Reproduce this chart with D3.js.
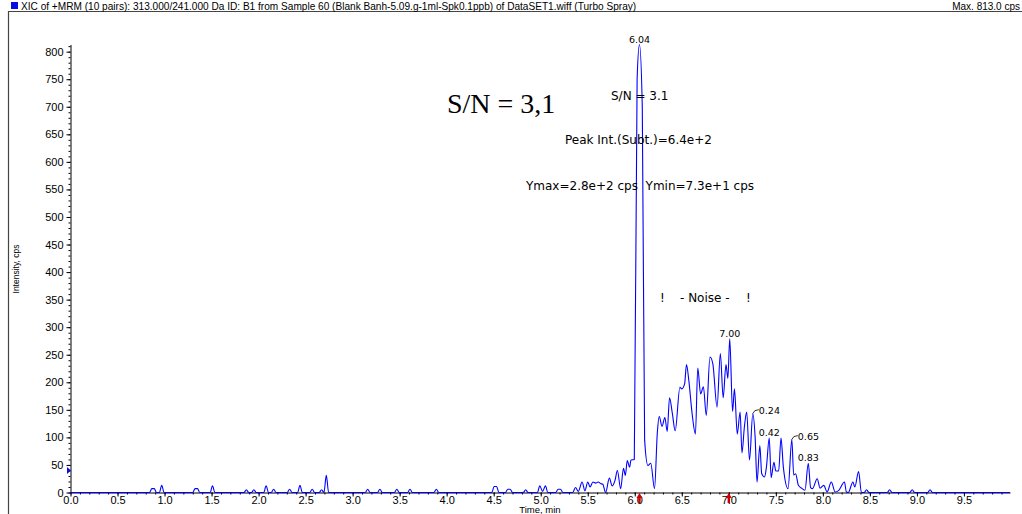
<!DOCTYPE html>
<html>
<head>
<meta charset="utf-8">
<script src="https://cdn.jsdelivr.net/npm/d3@7"></script>
<style>
  body { margin: 0; background: #fff; }
  svg { display: block; }
</style>
</head>
<body>
<svg width="1022" height="514"></svg>
<script>
// chromatogram data (time in min, intensity in cps)
const times = [
    0.00, 0.84, 0.865, 0.89, 0.915, 0.945, 0.97, 0.995,
    1.30, 1.325, 1.35, 1.375, 1.485, 1.51, 1.535,
    1.845, 1.87, 1.895, 1.925, 1.95, 1.975,
    2.055, 2.08, 2.105, 2.135, 2.16, 2.185,
    2.305, 2.33, 2.355, 2.415, 2.44, 2.465,
    2.545, 2.57, 2.595, 2.645, 2.67, 2.695, 2.72, 2.745,
    3.135, 3.16, 3.185, 3.265, 3.29, 3.315,
    3.445, 3.47, 3.495, 3.585, 3.61, 3.635,
    3.865, 3.89, 3.915,
    4.48, 4.505, 4.53, 4.555, 4.625, 4.65, 4.675, 4.70,
    4.815, 4.84, 4.865, 4.965, 4.99, 5.02, 5.05, 5.075,
    5.16, 5.185, 5.21, 5.235,
    5.34, 5.37, 5.40, 5.44, 5.47, 5.50, 5.525, 5.555, 5.585, 5.61,
    5.64, 5.66, 5.69, 5.73, 5.76, 5.79, 5.815, 5.85, 5.88, 5.90,
    5.92, 5.945, 5.96, 5.995, 6.025, 6.05, 6.08, 6.105, 6.14, 6.17,
    6.21, 6.24, 6.26, 6.29, 6.32, 6.345, 6.37, 6.40, 6.43, 6.48,
    6.50, 6.53, 6.55, 6.575, 6.61, 6.645, 6.67, 6.70, 6.73, 6.76,
    6.80, 6.83, 6.875, 6.91, 6.94, 6.97, 6.99, 7.01, 7.04, 7.06,
    7.09, 7.12, 7.14, 7.165, 7.19, 7.22, 7.255, 7.28, 7.30, 7.33,
    7.35, 7.38, 7.40, 7.43, 7.45, 7.48, 7.50, 7.53, 7.555, 7.58,
    7.63, 7.67, 7.69, 7.71, 7.74, 7.78, 7.81, 7.845, 7.87, 7.89,
    7.94, 7.97, 8.01, 8.045, 8.09, 8.13, 8.17, 8.23, 8.25, 8.27,
    8.32, 8.34, 8.38, 8.41, 8.44, 8.465, 8.49,
    8.685, 8.71, 8.735, 8.925, 8.95, 8.975, 9.115, 9.14, 9.165, 9.99
];
const cps = [
    0, 0, 7, 7, 0, 0, 13, 0,
    0, 7, 7, 0, 0, 12, 0,
    0, 5, 0, 0, 5, 0,
    0, 12, 0, 0, 6, 0,
    0, 6, 0, 0, 13, 0,
    0, 6, 0, 0, 5, 0, 31, 0,
    0, 6, 0, 0, 6, 0,
    0, 6, 0, 0, 6, 0,
    0, 6, 0,
    0, 11, 11, 0, 0, 6, 6, 0,
    0, 5, 0, 0, 12, 2, 12, 0,
    0, 6, 6, 0,
    0, 9, 2, 19, 3, 19, 10, 19, 17, 19,
    16, 15, 0, 26, 12, 22, 40, 7, 44, 31,
    58, 46, 59, 60, 750, 813, 700, 95, 49, 53,
    7, 109, 138, 120, 136, 111, 172, 143, 112, 191,
    188, 197, 232, 203, 143, 106, 226, 179, 192, 140,
    246, 234, 155, 252, 172, 232, 207, 279, 147, 188,
    106, 146, 72, 118, 146, 59, 143, 100, 19, 85,
    34, 28, 46, 99, 27, 55, 39, 39, 99, 46,
    7, 96, 32, 34, 13, 7, 4, 53, 9, 7,
    25, 8, 13, 1, 19, 1, 4, 19, 1, 0,
    19, 10, 38, 0, 0, 5, 0,
    0, 5, 0, 0, 5, 0, 0, 5, 0, 0
];

// axis ticks
const xTicks = [0.0, 0.5, 1.0, 1.5, 2.0, 2.5, 3.0, 3.5, 4.0, 4.5, 5.0, 5.5, 6.0, 6.5, 7.0, 7.5, 8.0, 8.5, 9.0, 9.5];
const yTicks = [0, 50, 100, 150, 200, 250, 300, 350, 400, 450, 500, 550, 600, 650, 700, 750, 800];

// peak labels
const peakTimes = [6.05, 7.01, 7.255, 7.43, 7.67, 7.845];
const peakTexts = ["6.04", "7.00", "0.24", "0.42", "0.65", "0.83"];
const peakLeader = [false, false, true, false, true, false];

// markers
const markerTimes = [6.05, 7.0];
const baseMarker = 40;

const svg = d3.select("svg");
const width = 1022;
const height = 514;

svg.append("rect").attr("width", width).attr("height", height).attr("fill", "#fff");

// scales
const x = d3.scaleLinear().domain([0, 9.99]).range([70.5, 1010]);
const y = d3.scaleLinear().domain([0, 813]).range([492.5, 44.5]);

// frame
svg.append("line")
    .attr("x1", 8).attr("x2", width).attr("y1", 11.5).attr("y2", 11.5)
    .attr("stroke", "#444").attr("stroke-width", 1.2);
svg.append("line")
    .attr("x1", 8.5).attr("x2", 8.5).attr("y1", 11).attr("y2", height)
    .attr("stroke", "#444").attr("stroke-width", 1.2);

// header
svg.append("rect")
    .attr("x", 11).attr("y", 2).attr("width", 7).attr("height", 7)
    .attr("fill", "#0a0ae6");
svg.append("text")
    .attr("x", 21).attr("y", 9.5)
    .attr("font-family", "Liberation Sans, Arial, sans-serif")
    .attr("font-size", 10.1)
    .text("XIC of +MRM (10 pairs): 313.000/241.000 Da ID: B1 from Sample 60 (Blank Banh-5.09.g-1ml-Spk0.1ppb) of DataSET1.wiff (Turbo Spray)");
svg.append("text")
    .attr("x", 1020).attr("y", 9.5)
    .attr("text-anchor", "end")
    .attr("font-family", "Liberation Sans, Arial, sans-serif")
    .attr("font-size", 10)
    .text("Max. 813.0 cps");

// minor ticks
svg.append("g")
    .attr("transform", "translate(0,492.5)")
    .call(d3.axisBottom(x).tickValues(d3.range(0, 100).map(d => d / 10)).tickSize(2).tickFormat(""))
    .call(g => g.select(".domain").remove());
svg.append("g")
    .attr("transform", "translate(70.5,0)")
    .call(d3.axisLeft(y).tickValues(d3.range(0, 82).map(d => d * 10)).tickSize(2).tickFormat(""))
    .call(g => g.select(".domain").remove());

// x axis
const xAxis = svg.append("g")
    .attr("transform", "translate(0,492.5)")
    .call(d3.axisBottom(x).tickValues(xTicks).tickSize(4).tickSizeOuter(0).tickFormat(d3.format(".1f")));

// y axis
const yAxis = svg.append("g")
    .attr("transform", "translate(70.5,0)")
    .call(d3.axisLeft(y).tickValues(yTicks).tickSize(4).tickSizeOuter(0));

[xAxis, yAxis].forEach(function(g) {
    g.selectAll("text")
        .attr("font-family", "Liberation Sans, Arial, sans-serif")
        .attr("font-size", 11)
        .attr("fill", "#000");
});
xAxis.selectAll("text").attr("y", 5).attr("dy", "0.55em");

// axis titles
svg.append("text")
    .attr("transform", "translate(18.5,269) rotate(-90)")
    .attr("text-anchor", "middle")
    .attr("font-family", "Liberation Sans, Arial, sans-serif")
    .attr("font-size", 8.5)
    .text("Intensity, cps");
svg.append("text")
    .attr("x", 540).attr("y", 512.5)
    .attr("text-anchor", "middle")
    .attr("font-family", "Liberation Sans, Arial, sans-serif")
    .attr("font-size", 9.5)
    .text("Time, min");

// trace
const points = times.map((t, i) => [t, cps[i]]);
const line = d3.line()
    .x(d => x(d[0]))
    .y(d => y(d[1]))
    .curve(d3.curveMonotoneX);

svg.append("path")
    .datum(points)
    .attr("d", line)
    .attr("fill", "none")
    .attr("stroke", "#0000ff")
    .attr("stroke-width", 1.1);

// peak labels
const labelFont = "DejaVu Sans, Verdana, sans-serif";
peakTimes.forEach(function(t, i) {
    const v = cps[times.indexOf(t)];
    const px = x(t);
    const py = y(v);
    if (peakLeader[i]) {
        svg.append("path")
            .attr("d", `M${px},${py} Q${px + 1},${py - 4} ${px + 6},${py - 4}`)
            .attr("fill", "none")
            .attr("stroke", "#000")
            .attr("stroke-width", 0.8);
        svg.append("text")
            .attr("x", px + 6).attr("y", py)
            .attr("font-family", labelFont)
            .attr("font-size", 9.5)
            .text(peakTexts[i]);
    } else {
        svg.append("text")
            .attr("x", px).attr("y", py - 2)
            .attr("text-anchor", "middle")
            .attr("font-family", labelFont)
            .attr("font-size", 9.5)
            .text(peakTexts[i]);
    }
});

// red markers on x axis
markerTimes.forEach(function(t) {
    const px = x(t);
    svg.append("path")
        .attr("d", `M${px},493 L${px + 3},498 L${px + 1.2},498 L${px + 1.2},503 L${px - 1.2},503 L${px - 1.2},498 L${px - 3},498 Z`)
        .attr("fill", "#cc0000");
});

// baseline marker on y axis
svg.append("path")
    .attr("d", `M67,${y(baseMarker) - 3.5} L71,${y(baseMarker)} L67,${y(baseMarker) + 3.5} Z`)
    .attr("fill", "#0a0ae6");

// annotations
svg.append("text")
    .attr("x", 447).attr("y", 113)
    .attr("font-family", "Liberation Serif, Times New Roman, serif")
    .attr("font-size", 28)
    .text("S/N = 3,1");

const notes = [
    { x: 611, y: 100, t: "S/N = 3.1" },
    { x: 565, y: 144, t: "Peak Int.(Subt.)=6.4e+2" },
    { x: 526, y: 190, t: "Ymax=2.8e+2 cps  Ymin=7.3e+1 cps" },
    { x: 660, y: 302, t: "!" },
    { x: 680, y: 302, t: "- Noise -" },
    { x: 746, y: 302, t: "!" }
];
notes.forEach(function(n) {
    svg.append("text")
        .attr("x", n.x).attr("y", n.y)
        .attr("font-family", labelFont)
        .attr("font-size", 12)
        .attr("xml:space", "preserve")
        .style("white-space", "pre")
        .text(n.t);
});
</script>
</body>
</html>
